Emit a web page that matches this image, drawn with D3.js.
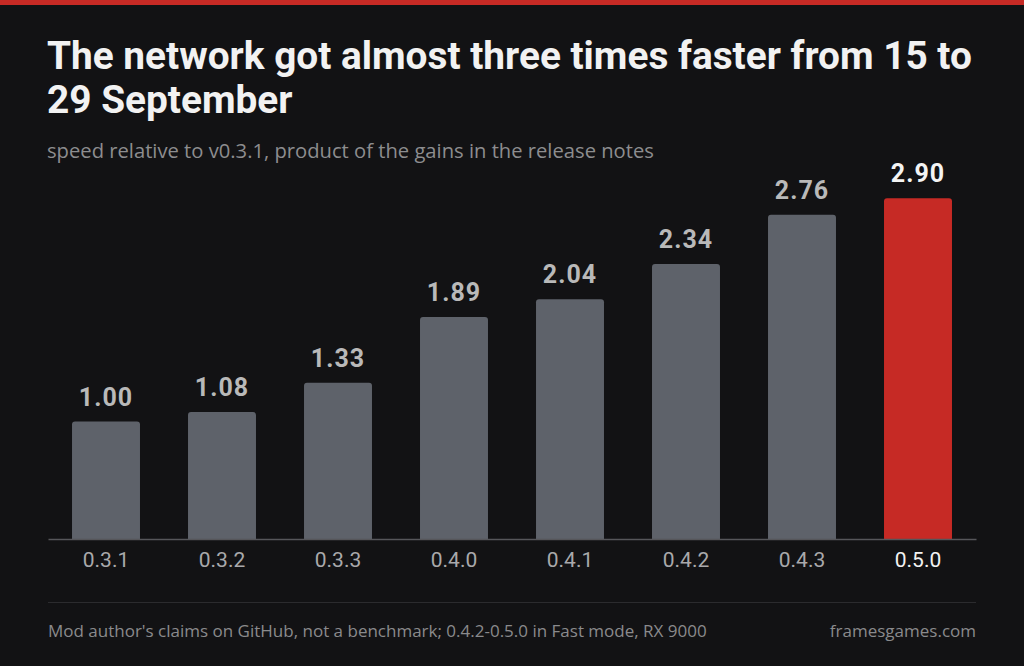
<!DOCTYPE html>
<html>
<head>
<meta charset="utf-8">
<script src="https://cdn.jsdelivr.net/npm/d3@7"></script>
<style>
  html, body { margin: 0; padding: 0; background: #121214; }
  svg { display: block; }
</style>
</head>
<body>
<div id="chart"></div>
<script>
// data
const versions = ['0.3.1', '0.3.2', '0.3.3', '0.4.0', '0.4.1', '0.4.2', '0.4.3', '0.5.0']
const speedup = [1.00, 1.08, 1.33, 1.89, 2.04, 2.34, 2.76, 2.90]
const titleLines = ['The network got almost three times faster from 15 to', '29 September']
const subtitle = 'speed relative to v0.3.1, product of the gains in the release notes'
const footNote = "Mod author's claims on GitHub, not a benchmark; 0.4.2-0.5.0 in Fast mode, RX 9000"
const credit = 'framesgames.com'

const W = 1024
const H = 666
const left = 48
const right = 976
const baseY = 539
const red = '#c62a25'
const grey = '#5e626a'

const svg = d3.select('#chart').append('svg')
  .attr('width', W)
  .attr('height', H)
  .attr('viewBox', `0 0 ${W} ${H}`)

svg.append('rect').attr('width', W).attr('height', H).attr('fill', '#121214')
svg.append('rect').attr('width', W).attr('height', 5).attr('fill', red)

// title
const title = svg.append('text')
  .attr('x', left - 1)
  .attr('y', 69)
  .attr('fill', '#f2f2f2')
  .style('font-family', 'Roboto, sans-serif')
  .style('font-weight', 700)
  .style('font-size', '38.8px')
title.selectAll('tspan')
  .data(titleLines)
  .join('tspan')
  .attr('x', left - 1)
  .attr('dy', (d, i) => i === 0 ? 0 : 44)
  .text(d => d)

svg.append('text')
  .attr('x', left - 1)
  .attr('y', 158)
  .attr('fill', '#8d8d8f')
  .style('font-family', '"Open Sans", sans-serif')
  .style('font-size', '20.2px')
  .text(subtitle)

// scales
const x = d3.scaleBand()
  .domain(versions)
  .range([left, right])
  .paddingInner(0.414)
  .paddingOuter(0.207)

const y = d3.scaleLinear()
  .domain([0, 3])
  .range([baseY, baseY - 352.5])

const rows = versions.map((v, i) => ({ v, val: speedup[i], last: i === versions.length - 1 }))

// bars, rounded top corners only
const barPath = d => {
  const x0 = x(d.v)
  const w = x.bandwidth()
  const top = y(d.val)
  const r = 3
  const p = d3.path()
  p.moveTo(x0, baseY)
  p.lineTo(x0, top + r)
  p.arcTo(x0, top, x0 + r, top, r)
  p.lineTo(x0 + w - r, top)
  p.arcTo(x0 + w, top, x0 + w, top + r, r)
  p.lineTo(x0 + w, baseY)
  p.closePath()
  return p.toString()
}

svg.append('g')
  .selectAll('path')
  .data(rows)
  .join('path')
  .attr('d', barPath)
  .attr('fill', d => d.last ? red : grey)

svg.append('g')
  .selectAll('text')
  .data(rows)
  .join('text')
  .attr('x', d => x(d.v) + x.bandwidth() / 2)
  .attr('y', d => y(d.val) - 16)
  .attr('text-anchor', 'middle')
  .attr('fill', d => d.last ? '#f4f4f4' : '#b9b9b9')
  .style('font-family', 'Roboto, sans-serif')
  .style('font-weight', 700)
  .style('font-size', '25px')
  .style('letter-spacing', '1px')
  .text(d => d.val.toFixed(2))

// x axis
const axis = svg.append('g')
  .attr('transform', `translate(0,${baseY})`)
  .call(d3.axisBottom(x).tickSize(0).tickPadding(13))
axis.select('.domain')
  .attr('stroke', '#56565a')
  .attr('stroke-width', 1.5)
axis.selectAll('.tick text')
  .attr('fill', d => d === versions[versions.length - 1] ? '#f2f2f2' : '#a9a9ab')
  .style('font-family', 'Roboto, sans-serif')
  .style('font-size', '21px')
  .style('font-weight', 400)

// footer
svg.append('line')
  .attr('x1', left).attr('x2', right)
  .attr('y1', 602.5).attr('y2', 602.5)
  .attr('stroke', '#2b2b2e')
  .attr('stroke-width', 1)

svg.append('text')
  .attr('x', left)
  .attr('y', 637)
  .attr('fill', '#8a8a8c')
  .style('font-family', '"Open Sans", sans-serif')
  .style('font-size', '17px')
  .text(footNote)

svg.append('text')
  .attr('x', right)
  .attr('y', 637)
  .attr('text-anchor', 'end')
  .attr('fill', '#8a8a8c')
  .style('font-family', '"Open Sans", sans-serif')
  .style('font-size', '17px')
  .text(credit)
</script>
</body>
</html>
